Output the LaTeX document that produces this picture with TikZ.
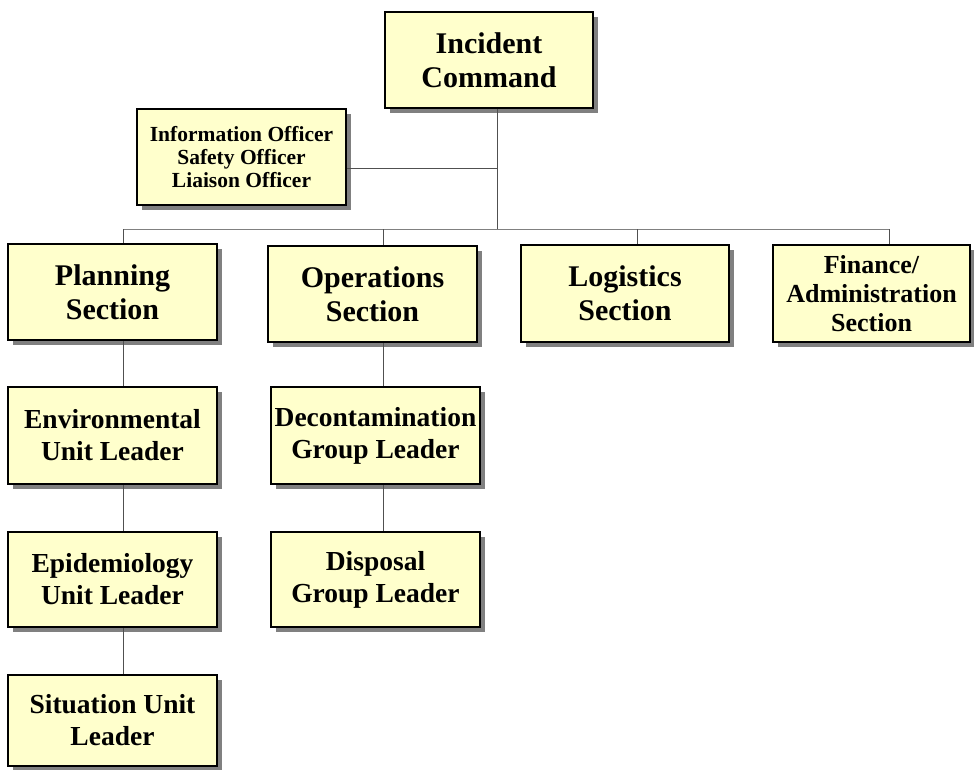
\documentclass[tikz,border=0pt]{standalone}
\usepackage{fontspec}
\setmainfont{Liberation Serif}
\usetikzlibrary{shadows}

\definecolor{boxyellow}{HTML}{FFFFCC}
\definecolor{linegray}{HTML}{505050}
\newcommand{\bigtext}{\fontsize{30}{34}\selectfont\bfseries}
\newcommand{\midtext}{\fontsize{27.5}{32}\selectfont\bfseries}
\newcommand{\smalltext}{\fontsize{21.5}{23}\selectfont\bfseries}

\tikzset{
    orgbox/.style={draw=black,line width=1.6pt,fill=boxyellow,align=center,
        inner sep=0pt,minimum width=209pt,minimum height=96pt,font=\midtext,
        drop shadow={shadow xshift=5pt,shadow yshift=-5pt,fill=gray,opacity=1}},
    orgline/.style={draw=linegray,line width=0.9pt}
}

\begin{document}
\begin{tikzpicture}[x=1pt,y=-1pt]
    \useasboundingbox (0,0) rectangle (974,770);

    % top of the chart
    \node[orgbox,minimum width=208pt,font=\bigtext] (cmd) at (489,60) {Incident\\Command};
    \node[orgbox,font=\smalltext] (staff) at (241.5,157) {Information Officer\\Safety Officer\\Liaison Officer};

    % sections
    \node[orgbox,font=\bigtext] (plan) at (112.5,292) {Planning\\Section};
    \node[orgbox,font=\bigtext] (ops) at (372.5,294) {Operations\\Section};
    \node[orgbox,minimum width=208pt,minimum height=97pt,font=\bigtext] (log) at (625,293.5) {Logistics\\Section};
    \node[orgbox,minimum width=197pt,minimum height=97pt,font=\fontsize{26}{29}\selectfont\bfseries] (fin) at (871.5,293.5) {Finance/\\Administration\\Section};

    % units and groups
    \node[orgbox,minimum height=97pt] (env) at (112.5,435.5) {Environmental\\Unit Leader};
    \node[orgbox,minimum height=95pt] (epi) at (112.5,579.5) {Epidemiology\\Unit Leader};
    \node[orgbox,minimum height=91pt] (sit) at (112.5,720.5) {Situation Unit\\Leader};
    \node[orgbox,minimum height=97pt] (decon) at (375.5,435.5) {Decontamination\\Group Leader};
    \node[orgbox,minimum height=95pt] (disp) at (375.5,579.5) {Disposal\\Group Leader};

    % connectors
    \coordinate (spine) at (497,229);
    \coordinate (staffj) at (497,168);
    \coordinate (planj) at (123,229);
    \coordinate (opsj) at (383,229);
    \coordinate (logj) at (637,229);
    \coordinate (finj) at (889,229);

    \draw[orgline] (cmd.south -| spine) -- (spine);
    \draw[orgline] (staffj -| staff.east) -- (staffj);
    \draw[orgline,draw=gray] (planj) -- (finj);
    \draw[orgline] (planj) -- (planj |- plan.north);
    \draw[orgline] (opsj) -- (opsj |- ops.north);
    \draw[orgline] (logj) -- (logj |- log.north);
    \draw[orgline] (finj) -- (finj |- fin.north);

    \draw[orgline] (plan.south -| planj) -- (env.north -| planj);
    \draw[orgline] (env.south -| planj) -- (epi.north -| planj);
    \draw[orgline] (epi.south -| planj) -- (sit.north -| planj);
    \draw[orgline] (ops.south -| opsj) -- (decon.north -| opsj);
    \draw[orgline] (decon.south -| opsj) -- (disp.north -| opsj);
\end{tikzpicture}
\end{document}
